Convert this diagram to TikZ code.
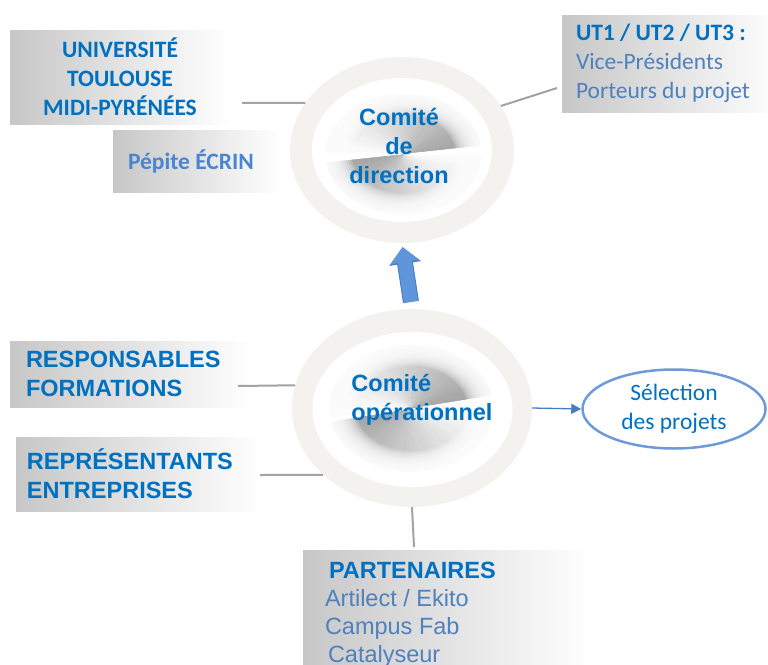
\documentclass[tikz,border=0pt]{standalone}
\usepackage{fontspec}
\setmainfont{Liberation Sans}
\newfontfamily\calfont{Carlito}
\usetikzlibrary{positioning,arrows.meta,shapes.geometric}
\definecolor{titleblue}{HTML}{0070C0}
\definecolor{softblue}{HTML}{4F81BD}
\definecolor{paleblue}{HTML}{4A86D0}
\definecolor{ringgray}{HTML}{F3F2EE}
\definecolor{linkgray}{HTML}{A3A3A3}
\definecolor{arrowblue}{HTML}{5E95DB}
\definecolor{arrowedge}{HTML}{4A7CC4}
\definecolor{ovalblue}{HTML}{6C9BDA}
\newcommand\swirl[5]{\begin{scope}[shift={(#1,#2)}]
\foreach \a in {0,4,...,356}{\pgfmathtruncatemacro\g{36*(1-mod(720-\a+#5,180)/180)^1.1}\fill[black!\g] (0,0) -- (\a:#3 and #4) -- (\a+4.6:#3 and #4) -- cycle;}
\foreach \k in {0,...,13}{\fill[white, opacity=0.2, even odd rule] (0,0) ellipse ({#3+4} and {#4+4}) (0,0) ellipse ({#3-2*\k} and {#4-1.55*\k});}
\end{scope}}
\begin{document}
\begin{tikzpicture}[x=1pt, y=-1pt, every node/.style={inner sep=0pt, font=\fontsize{23.5}{29}\selectfont},
box/.style={rectangle, left color=black!22, right color=white},
ring/.style={ellipse, fill=ringgray},
link/.style={draw=linkgray, line width=2pt},
flat/.style={align=left, execute at begin node={\spaceskip=0pt\xspaceskip=0pt\relax}},
head/.style={font=\fontsize{23.5}{29}\selectfont\bfseries, text=titleblue},
calhead/.style={font=\fontsize{23.5}{29}\selectfont\calfont\bfseries, text=titleblue}]
\useasboundingbox (0,0) rectangle (768,664);
\clip (0,0) rectangle (768,664);
\node[ring, minimum width=224pt, minimum height=186pt] (CD) at (402,150) {};
\fill[white] (CD.center) ellipse (90 and 72);
\swirl{403.5}{154}{78}{60}{170}
\node[head, align=center] (CDt) at (399,146) {Comité\\de\\direction};
\node[ring, minimum width=240pt, minimum height=198pt] (CO) at (412,408) {};
\fill[white] (412.5,409.5) ellipse (100 and 77.5);
\swirl{411.5}{408.5}{82}{63}{165}
\node[head, align=left] (COt) at (422,400) {Comité\\opérationnel};
\draw[line width=14pt, arrowblue, -{Triangle[length=15pt,width=28pt]}, shorten <=7pt, shorten >=4pt, preaction={draw=arrowedge, line width=16pt, -{Triangle[length=16.5pt,width=31pt]}}] (CO.north) -- (CD.south);
\node[box, minimum width=220pt, minimum height=94pt, calhead, align=center] (UTMP) at (120,77) {UNIVERSITÉ\\TOULOUSE\\MIDI-PYRÉNÉES};
\node[box, minimum width=167pt, minimum height=62pt, text width=137pt, flat, calhead, text=paleblue] (PE) at (196.5,161) {Pépite ÉCRIN};
\node[box, minimum width=220pt, minimum height=97pt, text width=192pt, flat, font=\fontsize{23.5}{29}\selectfont\calfont, text=softblue] (UT) at (672,63.5) {{\bfseries\color{titleblue}UT1 / UT2 / UT3 :}\\Vice-Présidents\\Porteurs du projet};
\node[box, minimum width=243pt, minimum height=66pt, text width=211pt, flat, head] (RF) at (131.5,374) {RESPONSABLES\\FORMATIONS};
\node[box, minimum width=246pt, minimum height=74pt, text width=224pt, flat, head] (RE) at (139,474) {REPRÉSENTANTS\\ENTREPRISES};
\node[box, minimum width=289pt, minimum height=130pt, text width=245pt, flat, font=\fontsize{23.5}{28}\selectfont, text=softblue] (PA) at (447.5,615) {\hspace*{4pt}{\bfseries\color{titleblue}PARTENAIRES}\\Artilect / Ekito\\Campus Fab\\\hspace*{3pt}Catalyseur};
\node[ellipse, draw=ovalblue, line width=2.5pt, minimum width=183pt, minimum height=79pt, font=\fontsize{23.5}{29}\selectfont\calfont, text=titleblue, align=center] (SP) at (674,409) {Sélection\\des projets};
\coordinate (c1) at (242,103);
\coordinate (c2) at (557,88);
\coordinate (c3) at (238,386);
\coordinate (c4) at (260,475);
\coordinate (c5) at (414,547);
\draw[link] (c1) -- (CD.154);
\draw[link] (CD.24) -- (c2);
\draw[link] (c3) -- (CO.169);
\draw[link] (c4) -- (CO.217);
\draw[link] (CO.south) -- (c5);
\draw[draw=arrowedge, line width=1.3pt, -{Triangle[length=10pt,width=10pt]}] (CO.east) -- (SP.west);
\end{tikzpicture}
\end{document}
